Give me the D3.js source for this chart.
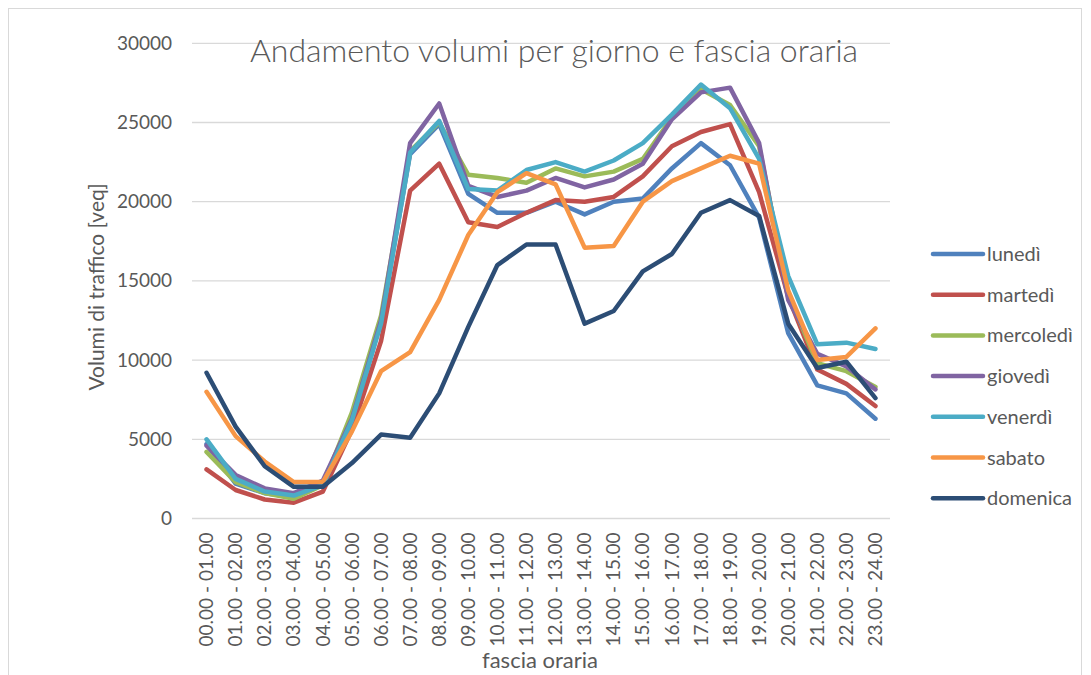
<!DOCTYPE html>
<html>
  <head>
    <title>Andamento volumi</title>
    <script src="https://d3js.org/d3.v7.min.js"></script>
    <style>
      body { margin: 0; background: #fff; }
      text { font-family: Lato, "Open Sans", sans-serif; fill: #595959; }
    </style>
  </head>
  <body>
  <svg width="1091" height="675"></svg>
  <script>

    // dati
    var fasce = ["00.00 - 01.00","01.00 - 02.00","02.00 - 03.00","03.00 - 04.00","04.00 - 05.00","05.00 - 06.00",
                 "06.00 - 07.00","07.00 - 08.00","08.00 - 09.00","09.00 - 10.00","10.00 - 11.00","11.00 - 12.00",
                 "12.00 - 13.00","13.00 - 14.00","14.00 - 15.00","15.00 - 16.00","16.00 - 17.00","17.00 - 18.00",
                 "18.00 - 19.00","19.00 - 20.00","20.00 - 21.00","21.00 - 22.00","22.00 - 23.00","23.00 - 24.00"];
    var giorni = ["lunedì","martedì","mercoledì","giovedì","venerdì","sabato","domenica"];
    var colori = ["#4F81BD","#C0504D","#9BBB59","#8064A2","#4BACC6","#F79646","#2C4D75"];

    var lunedi    = [4700,2200,1600,1350,2200,6000,12500,23000,24900,20500,19300,19300,20000,19200,20000,20200,22100,23700,22300,19000,11700,8400,7900,6300];
    var martedi   = [3100,1800,1200,1000,1700,5600,11200,20700,22400,18700,18400,19300,20100,20000,20300,21600,23500,24400,24900,20600,14000,9400,8500,7100];
    var mercoledi = [4200,2300,1600,1250,2100,6700,12800,23200,25000,21700,21500,21200,22100,21600,21900,22700,25300,27100,26100,23500,14200,9800,9300,8300];
    var giovedi   = [4600,2750,1900,1600,2400,6300,12500,23700,26200,21000,20300,20700,21500,20900,21400,22400,25200,26900,27200,23700,13800,10400,9600,8150];
    var venerdi   = [5000,2500,1700,1450,2100,6200,12300,23100,25100,20800,20700,22000,22500,21900,22600,23700,25500,27400,25900,22700,15300,11000,11100,10700];
    var sabato    = [8000,5200,3600,2300,2300,5500,9300,10500,13800,17900,20600,21800,21100,17100,17200,20000,21300,22100,22900,22400,14400,10000,10200,12000];
    var domenica  = [9200,5800,3300,2000,2000,3500,5300,5100,7900,12100,16000,17300,17300,12300,13100,15600,16700,19300,20100,19100,12300,9500,9900,7600];
    var serie = [lunedi, martedi, mercoledi, giovedi, venerdi, sabato, domenica];

    var yTicks = [0,5000,10000,15000,20000,25000,30000];

    var svg = d3.select("svg");

    // cornice del grafico
    svg.append("rect")
      .attr("x", 8.5).attr("y", 8.5)
      .attr("width", 1073).attr("height", 690)
      .attr("fill", "none")
      .attr("stroke", "#d9d9d9");

    var pLeft = 192, pRight = 890, pTop = 43.3, pBottom = 518.5;

    var x = d3.scaleBand().domain(fasce).range([pLeft, pRight]);
    var y = d3.scaleLinear().domain([0, 30000]).range([pBottom, pTop]);

    // griglia orizzontale
    svg.append("g")
      .selectAll("line")
      .data(yTicks)
      .enter()
      .append("line")
      .attr("x1", pLeft).attr("x2", pRight)
      .attr("y1", function(d) { return y(d); })
      .attr("y2", function(d) { return y(d); })
      .attr("stroke", "#d9d9d9")
      .attr("stroke-width", 1.3);

    // asse y
    var yAxis = svg.append("g")
      .attr("transform", "translate(" + pLeft + ",0)")
      .call(d3.axisLeft(y).tickValues(yTicks).tickFormat(d3.format("d")).tickSize(0).tickPadding(20));
    yAxis.select(".domain").remove();
    yAxis.selectAll("text")
      .style("font-size", "19px")
      .attr("fill", "#595959");

    // asse x
    var xAxis = svg.append("g")
      .attr("transform", "translate(0," + pBottom + ")")
      .call(d3.axisBottom(x).tickSize(0));
    xAxis.select(".domain").remove();
    xAxis.selectAll("text")
      .style("font-size", "19px")
      .attr("fill", "#595959")
      .attr("transform", "rotate(-90)")
      .attr("text-anchor", "end")
      .attr("x", -14)
      .attr("y", 0)
      .attr("dy", "0.35em");

    // linee
    var line = d3.line()
      .x(function(d, i) { return x(fasce[i]) + x.bandwidth() / 2; })
      .y(function(d) { return y(d); });

    svg.append("g")
      .selectAll("path")
      .data(serie)
      .enter()
      .append("path")
      .attr("d", line)
      .attr("fill", "none")
      .attr("stroke", function(d, i) { return colori[i]; })
      .attr("stroke-width", 4.5)
      .attr("stroke-linejoin", "round")
      .attr("stroke-linecap", "round");

    // legenda
    var leg = svg.append("g")
      .selectAll("g")
      .data(giorni)
      .enter()
      .append("g")
      .attr("transform", function(d, i) { return "translate(933," + (254 + i * 40.7) + ")"; });
    leg.append("line")
      .attr("x1", 0).attr("x2", 50)
      .attr("stroke", function(d, i) { return colori[i]; })
      .attr("stroke-width", 4.5)
      .attr("stroke-linecap", "round");
    leg.append("text")
      .attr("x", 54)
      .attr("dy", "0.35em")
      .style("font-size", "20px")
      .text(function(d) { return d; });

    // titoli
    svg.append("text")
      .attr("x", 554).attr("y", 62)
      .attr("text-anchor", "middle")
      .style("font-size", "32px")
      .style("font-weight", "300")
      .text("Andamento volumi per giorno e fascia oraria");

    svg.append("text")
      .attr("x", 540).attr("y", 668)
      .attr("text-anchor", "middle")
      .style("font-size", "22px")
      .text("fascia oraria");

    svg.append("text")
      .attr("transform", "translate(104,287) rotate(-90)")
      .attr("text-anchor", "middle")
      .style("font-size", "21px")
      .text("Volumi di traffico [veq]");

  </script>
  </body>
</html>
